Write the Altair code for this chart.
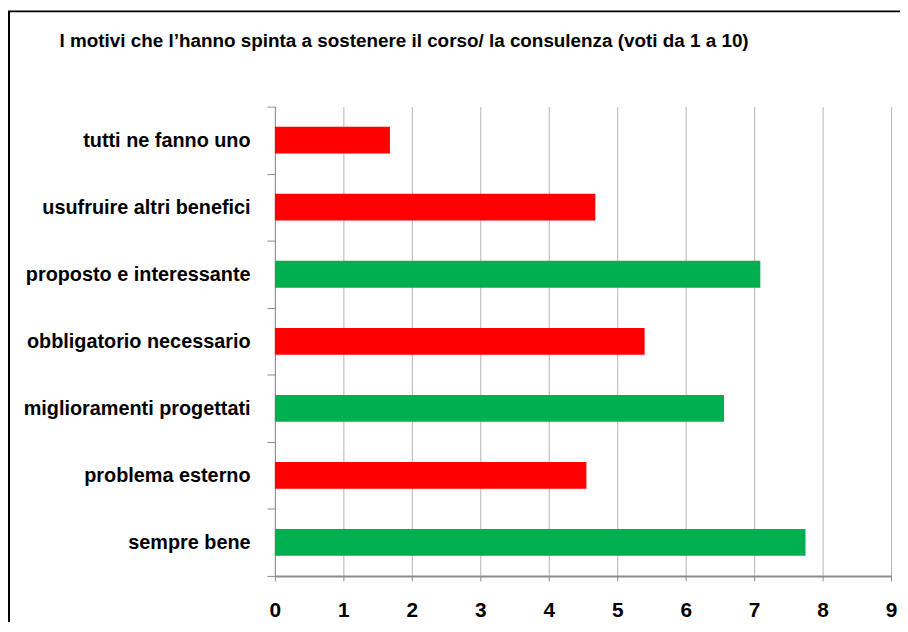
import altair as alt
import pandas as pd

categories = [
    "tutti ne fanno uno",
    "usufruire altri benefici",
    "proposto e interessante",
    "obbligatorio necessario",
    "miglioramenti progettati",
    "problema esterno",
    "sempre bene",
]
values = [1.68, 4.68, 7.09, 5.40, 6.56, 4.55, 7.75]
groups = ["rosso", "rosso", "verde", "rosso", "verde", "rosso", "verde"]
x_ticks = list(range(0, 10))
title_text = "I motivi che l’hanno spinta a sostenere il corso/ la consulenza (voti da 1 a 10)"

df = pd.DataFrame({"motivo": categories, "voto": values, "gruppo": groups})
frame_df = pd.DataFrame({"f": [0]})

FONT = "Liberation Sans"

bars = alt.Chart(df).mark_bar(size=27).encode(
    x=alt.X(
        "voto:Q",
        scale=alt.Scale(domain=[0, 9], nice=False, zero=True),
        axis=alt.Axis(
            values=x_ticks, title=None, grid=True, gridColor="#b3b3b3", gridWidth=1,
            domainColor="#8c8c8c", domainWidth=2, tickColor="#8c8c8c", tickSize=5,
            labelFontSize=21, labelFontWeight="bold", labelColor="#000000", labelFont=FONT,
            labelPadding=19, format="d", labelFlush=False,
        ),
    ),
    y=alt.Y(
        "motivo:N",
        sort=categories,
        scale=alt.Scale(paddingInner=0, paddingOuter=0),
        axis=alt.Axis(
            title=None, tickBand="extent", tickSize=8, tickColor="#8c8c8c",
            domainColor="#8c8c8c", domainWidth=1,
            labelFontSize=20, labelFontWeight="bold", labelColor="#000000", labelFont=FONT,
            labelPadding=17, labelLimit=400,
        ),
    ),
    color=alt.Color(
        "gruppo:N",
        scale=alt.Scale(domain=["rosso", "verde"], range=["#ff0000", "#00b050"]),
        legend=None,
    ),
)

frame = alt.Chart(frame_df).mark_rect(fill=None, stroke="#000000", strokeWidth=2).encode(
    x=alt.value(-268), x2=alt.value(800), y=alt.value(-96), y2=alt.value(800)
)

chart = alt.layer(bars, frame).properties(
    width=621,
    height=473,
    autosize=alt.AutoSizeParams(type="none"),
    padding={"left": 269, "top": 97, "right": 9, "bottom": 44},
    background="#ffffff",
    title=alt.TitleParams(
        title_text, anchor="start", frame="group", dx=-217, offset=-56,
        baseline="alphabetic", fontSize=19, font=FONT, fontWeight="bold", color="#000000",
    ),
).configure_view(stroke=None)

chart.save("out.html", embed_options={"renderer": "svg", "actions": False})
